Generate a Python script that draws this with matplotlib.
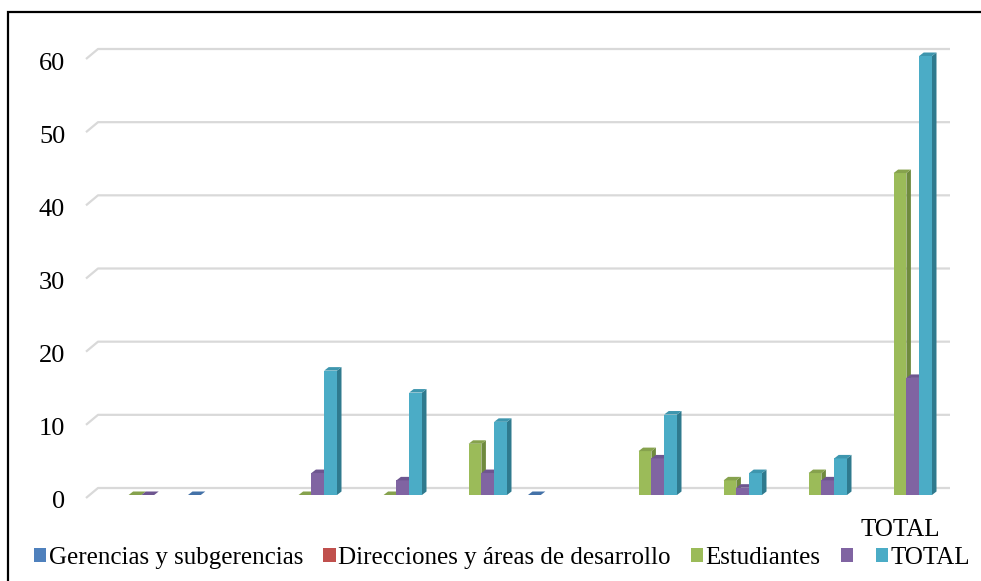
import matplotlib
matplotlib.use("Agg")
import matplotlib.pyplot as plt
import matplotlib.transforms as mtransforms
from matplotlib.patches import Polygon, Patch, Rectangle
import numpy as np

nan = np.nan

# categorias del eje x (solo la ultima lleva nombre)
categories = ["", "", "", "", "", "", "", "", "", "TOTAL"]
series_names = ["Gerencias y subgerencias", "Direcciones y áreas de desarrollo",
                "Estudiantes", "", "TOTAL"]

gerencias = [nan, 0, nan, nan, nan, 0, nan, nan, nan, nan]
direcciones = [nan, nan, nan, nan, nan, nan, nan, nan, nan, nan]
estudiantes = [0, nan, 0, 0, 7, nan, 6, 2, 3, 44]
otros = [0, nan, 3, 2, 3, nan, 5, 1, 2, 16]
total = [nan, nan, 17, 14, 10, nan, 11, 3, 5, 60]

y_ticks = [0, 10, 20, 30, 40, 50, 60]

front = ["#4F81BD", "#C0504D", "#9BBB59", "#8064A2", "#4BACC6"]
side = ["#385D8A", "#8C3836", "#6F8A3E", "#5B4776", "#2F7A8E"]
top = ["#4472A8", "#A84542", "#86A24D", "#6E5690", "#3E96AE"]

W, H, DPI = 981, 581, 100
fig = plt.figure(figsize=(W / DPI, H / DPI), dpi=DPI)

# pixel layout of the plot area
px_left, px_right = 86, 938
px_zero, px_top = 495, 56
x0, x1 = (px_left - 135) / 85, (px_right - 135) / 85
ax = fig.add_axes([px_left / W, (H - px_zero) / H,
                   (px_right - px_left) / W, (px_zero - px_top) / H])
ax.set_xlim(x0, x1)
ax.set_ylim(0, 60)
for s in ax.spines.values():
    s.set_visible(False)

# pixels -> data units
ux = (x1 - x0) / (px_right - px_left)
uy = 60 / (px_zero - px_top)

# back wall gridlines with the little slanted floor edge on the left
for v in y_ticks:
    xs = [x0, x0 + 12 * ux, x1 + 12 * ux]
    ys = [v - 3 * uy, v + 7 * uy, v + 7 * uy]
    ax.plot(xs, ys, color="#D9D9D9", lw=1.6, clip_on=False, zorder=1,
            solid_capstyle="butt")

# bars with a fake 3d side and top
data = [gerencias, direcciones, estudiantes, otros, total]
bw = 12.8 * ux
dx, dy = 4.5 * ux, 3.5 * uy
xpos = np.arange(len(categories))
for k, vals in enumerate(data):
    for i, h in enumerate(vals):
        if np.isnan(h):
            continue
        xc = xpos[i] + (k - 2) * bw
        l, r = xc - bw / 2, xc + bw / 2
        if h > 0:
            ax.add_patch(Rectangle((l, 0), bw, h, facecolor=front[k],
                                   edgecolor="none", zorder=3, clip_on=False))
            ax.add_patch(Polygon([(r, 0), (r + dx, dy), (r + dx, h + dy), (r, h)],
                                 closed=True, facecolor=side[k], edgecolor="none",
                                 zorder=3, clip_on=False))
        ax.add_patch(Polygon([(l, h), (l + dx, h + dy), (r + dx, h + dy), (r, h)],
                             closed=True, facecolor=top[k], edgecolor="none",
                             zorder=3, clip_on=False))

serif = ["Liberation Serif", "DejaVu Serif"]
ax.set_yticks(y_ticks)
ax.set_yticklabels([str(v) for v in y_ticks], fontsize=19, family=serif)
ax.set_xticks(xpos)
ax.set_xticklabels(categories, fontsize=18, family=serif)
ax.tick_params(axis="y", length=0, pad=15)
ax.tick_params(axis="x", length=0, pad=17)
shift = mtransforms.ScaledTranslation(0, -5 / DPI, fig.dpi_scale_trans)
for lab in ax.get_yticklabels():
    lab.set_transform(lab.get_transform() + shift)

handles = [Patch(facecolor=c, edgecolor="none") for c in front]
fig.legend(handles, series_names, loc="center", ncol=5,
           bbox_to_anchor=(502 / W, (H - 558) / H), frameon=False,
           prop={"family": serif, "size": 18}, handlelength=0.5, handleheight=0.5,
           handletextpad=0.1, columnspacing=0.8, borderaxespad=0, borderpad=0)

# outer frame, only left and top edges fall inside the image
fig.patches.append(Rectangle((8 / W, -0.2), 2, (H - 12) / H + 0.2,
                             transform=fig.transFigure, fill=False,
                             edgecolor="black", lw=1.6, figure=fig))

fig.savefig("out.png", dpi=DPI)
